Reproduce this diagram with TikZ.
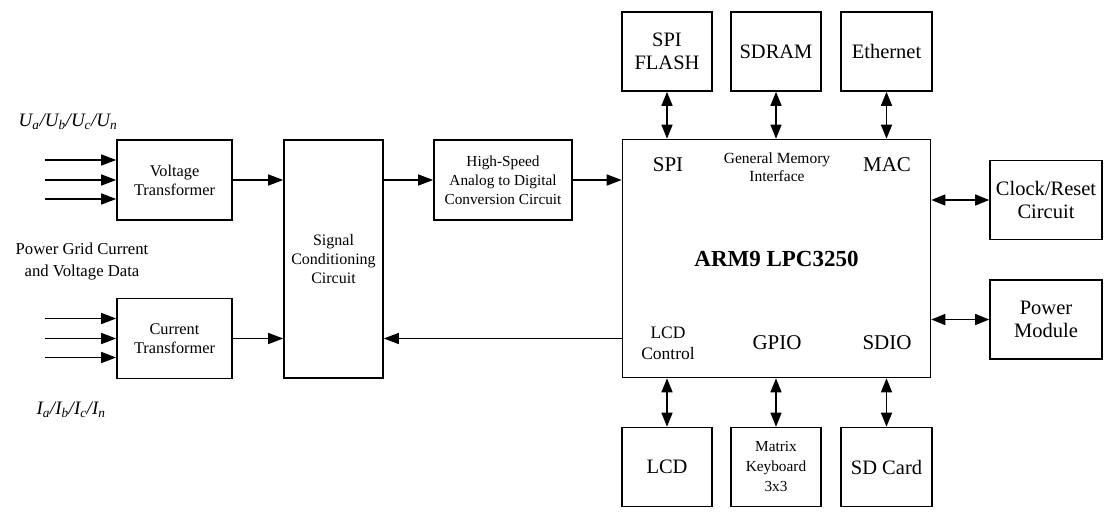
\documentclass[tikz,border=0pt]{standalone}
\usepackage{fontspec}
\setmainfont{Liberation Serif}
\usetikzlibrary{arrows.meta,positioning,calc}

\begin{document}
\begin{tikzpicture}[x=1pt, y=-1pt, line width=1.4pt,
  box/.style={rectangle, draw, line width=1.6pt, align=center, inner sep=0pt},
  sbox/.style={box, minimum width=115pt, minimum height=80pt, font=\fontsize{16.3}{19}\selectfont},
  pbox/.style={box, minimum width=90pt, minimum height=79pt, font=\fontsize{20.5}{23}\selectfont},
  sidebox/.style={box, minimum width=112pt, minimum height=79pt, font=\fontsize{20.5}{23}\selectfont},
  port/.style={align=center, inner sep=0pt, font=\fontsize{21}{22}\selectfont},
  arr/.style={-{Triangle[length=15pt,width=11pt]}},
  darr/.style={{Triangle[length=14pt,width=11pt]}-{Triangle[length=14pt,width=11pt]}}]
\useasboundingbox (0,0) rectangle (1110,511);

% input side
\node[sbox] (vt) at (174.5,180) {Voltage\\Transformer};
\node[sbox] (ct) at (174.5,338.5) {Current\\Transformer};
\node[font=\itshape\fontsize{19}{21}\selectfont] (ulbl) at (68,122) {U\textsubscript{a}/U\textsubscript{b}/U\textsubscript{c}/U\textsubscript{n}};
\node[font=\itshape\fontsize{19}{21}\selectfont] (ilbl) at (71,410) {I\textsubscript{a}/I\textsubscript{b}/I\textsubscript{c}/I\textsubscript{n}};
\node[align=center, font=\fontsize{16.7}{22}\selectfont] (grid) at (82,262) {Power Grid Current\\and Voltage Data};

\node[box, minimum width=99pt, minimum height=238pt, font=\fontsize{16}{19}\selectfont] (sc) at (333.5,259) {Signal\\Conditioning\\Circuit};
\node[box, minimum width=138pt, minimum height=80pt, font=\fontsize{15.3}{19}\selectfont] (adc) at (503,180) {High-Speed\\Analog to Digital\\Conversion Circuit};

% processor
\node[box, minimum width=308pt, minimum height=238pt, font=\bfseries\fontsize{23}{25}\selectfont] (arm) at (776.5,258.5) {ARM9 LPC3250};
\node[port] (spi) at (668,165) {SPI};
\node[port, font=\fontsize{15.5}{18}\selectfont] (gmi) at (777,167) {General Memory\\Interface};
\node[port] (mac) at (887,165) {MAC};
\node[port, font=\fontsize{17.5}{21}\selectfont] (lcdc) at (668,343.5) {LCD\\Control};
\node[port] (gpio) at (777,343) {GPIO};
\node[port] (sdio) at (887,343) {SDIO};

% peripherals
\node[pbox] (flash) at (667,51.5) {SPI\\FLASH};
\node[pbox] (sdram) at (776,51.5) {SDRAM};
\node[pbox, minimum width=91pt] (eth) at (886.5,51.5) {Ethernet};
\node[pbox] (lcd) at (667,467) {LCD};
\node[pbox, font=\fontsize{15.3}{20}\selectfont] (kbd) at (776,467) {Matrix\\Keyboard\\3x3};
\node[pbox, minimum width=91pt] (sd) at (886.5,467) {SD Card};
\node[sidebox] (clk) at (1046,200) {Clock/Reset\\Circuit};
\node[sidebox] (pwr) at (1046,319.5) {Power\\Module};

% connectors
\foreach \dy [count=\i] in {-20,0,19} {
  \coordinate (vin\i) at ($(vt.west)+(-71,\dy)$);
  \coordinate (cin\i) at ($(ct.west)+(-71,\dy)$);
  \draw[arr] (vin\i) -- (vin\i -| vt.west);
  \draw[arr] (cin\i) -- (cin\i -| ct.west);
}
\draw[arr] (vt.east) -- (vt.east -| sc.west);
\draw[arr] (ct.east) -- (ct.east -| sc.west);
\draw[arr] (sc.east |- adc.west) -- (adc.west);
\draw[arr] (adc.east) -- (adc.east -| arm.west);
\draw[arr] (arm.west |- ct.east) -- (sc.east |- ct.east);
\foreach \n in {flash,sdram,eth}
  \draw[darr] (\n.south) -- (\n.south |- arm.north);
\foreach \n in {lcd,kbd,sd}
  \draw[darr] (\n.north) -- (\n.north |- arm.south);
\foreach \n in {clk,pwr}
  \draw[darr] (arm.east |- \n.west) -- (\n.west);
\end{tikzpicture}
\end{document}
